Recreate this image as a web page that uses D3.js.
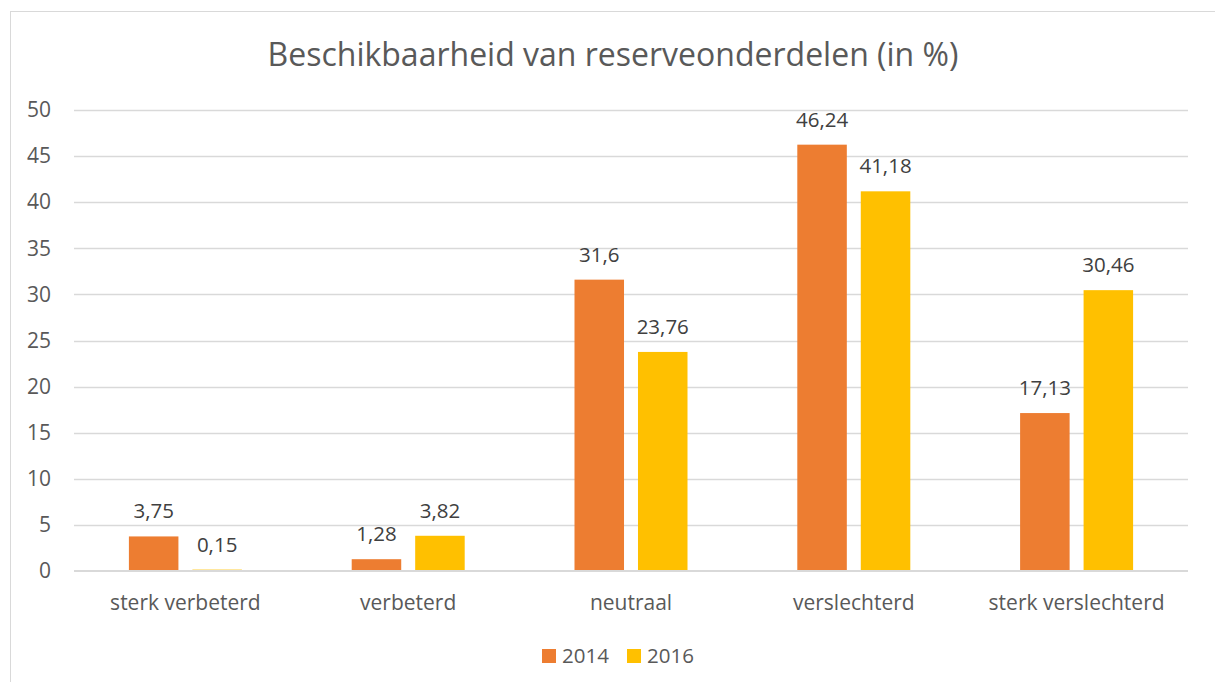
<!DOCTYPE html>
<html>
<head>
<meta charset="utf-8">
<script src="https://cdn.jsdelivr.net/npm/d3@7"></script>
<style>
  body { margin: 0; background: #fff; }
  svg { display: block; font-family: "Open Sans", sans-serif; }
</style>
</head>
<body>
<div id="chart"></div>
<script>
const categories = ["sterk verbeterd", "verbeterd", "neutraal", "verslechterd", "sterk verslechterd"];
const seriesNames = ["2014", "2016"];
const values2014 = [3.75, 1.28, 31.6, 46.24, 17.13];
const values2016 = [0.15, 3.82, 23.76, 41.18, 30.46];
const yTicks = [0, 5, 10, 15, 20, 25, 30, 35, 40, 45, 50];
const colors = ["#ED7D31", "#FFC000"];

const width = 1215;
const height = 682;
const marginTop = 110;
const marginRight = 27;
const marginBottom = 111;
const marginLeft = 74;
const textColor = "#595959";
const font = "'Open Sans', sans-serif";

const data = categories.map((c, i) => ({
    category: c,
    values: [values2014[i], values2016[i]]
}));

const svg = d3.select("#chart").append("svg")
    .attr("width", width)
    .attr("height", height);

// chart frame
svg.append("rect")
    .attr("x", 10.5).attr("y", 11.5)
    .attr("width", width + 10).attr("height", height + 10)
    .attr("fill", "none")
    .attr("stroke", "#D9D9D9");

const x = d3.scaleBand()
    .domain(categories)
    .range([marginLeft, width - marginRight]);

const groupWidth = 113;
const x1 = d3.scaleBand()
    .domain(seriesNames)
    .range([x.bandwidth() / 2 - groupWidth / 2, x.bandwidth() / 2 + groupWidth / 2])
    .paddingInner(0.22);

const y = d3.scaleLinear()
    .domain([0, 50])
    .range([height - marginBottom, marginTop]);

// gridlines
svg.append("g")
    .selectAll("line")
    .data(yTicks.filter(t => t > 0))
    .join("line")
    .attr("x1", marginLeft)
    .attr("x2", width - marginRight)
    .attr("y1", d => Math.round(y(d)) + 0.5)
    .attr("y2", d => Math.round(y(d)) + 0.5)
    .attr("stroke", "#D9D9D9")
    .attr("stroke-width", 1.3);

// y axis labels
const yAxis = svg.append("g")
    .attr("transform", `translate(${marginLeft - 23},0)`)
    .call(d3.axisLeft(y).tickValues(yTicks).tickSize(0).tickPadding(0));
yAxis.select(".domain").remove();
yAxis.selectAll("text")
    .attr("fill", textColor)
    .style("font-size", "21px")
    .style("font-family", font);

// bars
const groups = svg.append("g")
    .selectAll("g")
    .data(data)
    .join("g")
    .attr("transform", d => `translate(${x(d.category)},0)`);

groups.selectAll("rect")
    .data(d => d.values.map((v, i) => ({ key: seriesNames[i], value: v, idx: i })))
    .join("rect")
    .attr("x", d => x1(d.key))
    .attr("y", d => y(d.value))
    .attr("width", x1.bandwidth())
    .attr("height", d => y(0) - y(d.value))
    .attr("fill", d => colors[d.idx]);

// value labels
const fmt = v => String(v).replace(".", ",");
groups.selectAll("text")
    .data(d => d.values.map((v, i) => ({ key: seriesNames[i], value: v })))
    .join("text")
    .attr("x", d => x1(d.key) + x1.bandwidth() / 2)
    .attr("y", d => y(d.value) - 18)
    .attr("text-anchor", "middle")
    .attr("fill", "#404040")
    .style("font-size", "20.5px")
    .text(d => fmt(d.value));

// x axis line (drawn over the bars)
svg.append("line")
    .attr("x1", marginLeft)
    .attr("x2", width - marginRight)
    .attr("y1", y(0))
    .attr("y2", y(0))
    .attr("stroke", "#D9D9D9")
    .attr("stroke-width", 2);

// x axis labels
const xAxis = svg.append("g")
    .attr("transform", `translate(0,${height - marginBottom})`)
    .call(d3.axisBottom(x).tickSize(0).tickPadding(24));
xAxis.select(".domain").remove();
xAxis.selectAll("text")
    .attr("fill", textColor)
    .style("font-size", "21px")
    .style("font-family", font);

// title
svg.append("text")
    .attr("x", 613)
    .attr("y", 66)
    .attr("text-anchor", "middle")
    .attr("fill", textColor)
    .style("font-size", "32px")
    .text("Beschikbaarheid van reserveonderdelen (in %)");

// legend
const legend = svg.append("g")
    .selectAll("g")
    .data(seriesNames)
    .join("g")
    .attr("transform", (d, i) => `translate(${542 + i * 85},649)`);
legend.append("rect")
    .attr("width", 14)
    .attr("height", 14)
    .attr("fill", (d, i) => colors[i]);
legend.append("text")
    .attr("x", 20)
    .attr("y", 14)
    .attr("fill", textColor)
    .style("font-size", "20.5px")
    .text(d => d);
</script>
</body>
</html>
